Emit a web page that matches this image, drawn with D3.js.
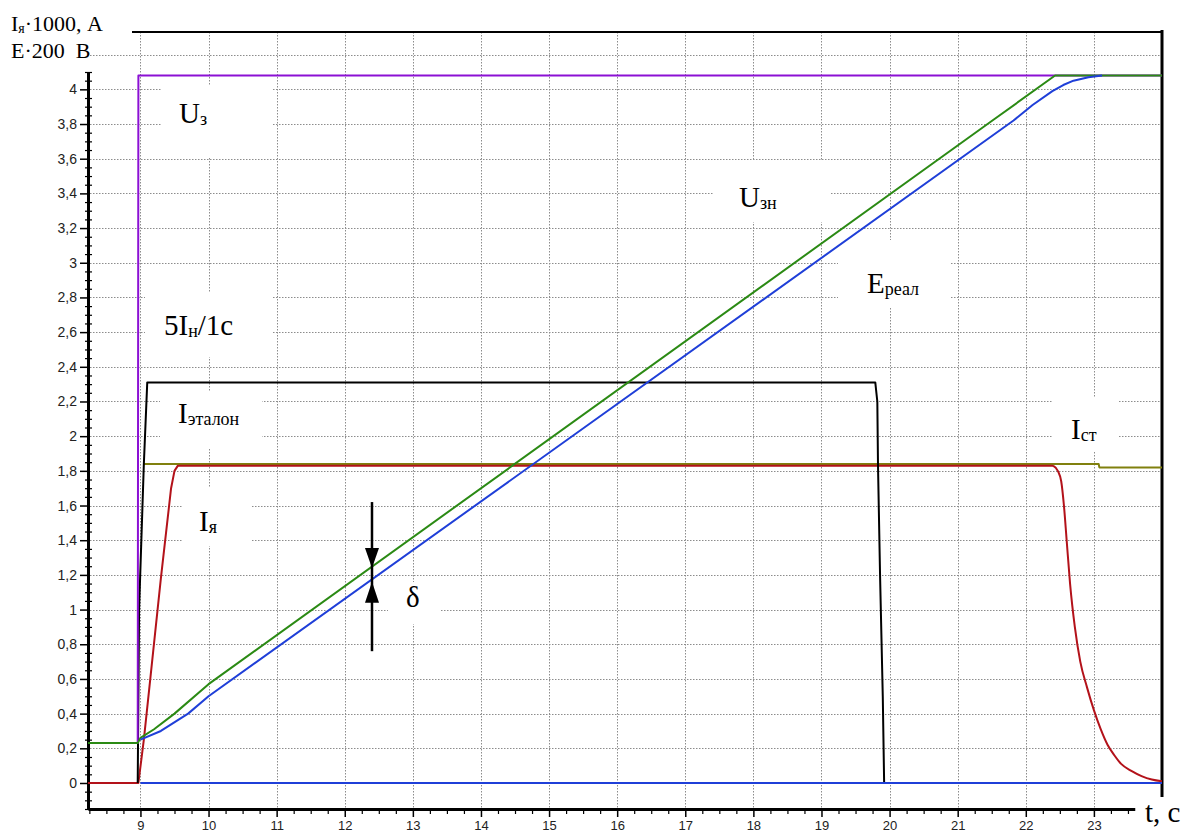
<!DOCTYPE html>
<html>
<head>
<meta charset="utf-8">
<script src="https://cdn.jsdelivr.net/npm/d3@7"></script>
<style>
    body { margin: 0; background: #fff; }
    svg { display: block; }
    .serif { font-family: "Liberation Serif", "DejaVu Serif", serif; fill: #000; }
    .tick text { font-family: "Liberation Sans", Arial, sans-serif; font-size: 14px; fill: #222; }
</style>
</head>
<body>
<svg id="chart" width="1181" height="833"></svg>
<script>
// time axis, s
var xMajor = [9, 10, 11, 12, 13, 14, 15, 16, 17, 18, 19, 20, 21, 22, 23];
var yMajor = [0, 0.2, 0.4, 0.6, 0.8, 1, 1.2, 1.4, 1.6, 1.8, 2, 2.2, 2.4, 2.6, 2.8, 3, 3.2, 3.4, 3.6, 3.8, 4];

// Uз - reference voltage (purple)
var uRef = [[8.23, 0.23], [8.96, 0.23], [8.97, 4.08], [24.0, 4.08]];
// Uзн - ramp generator output (green)
var uRamp = [[8.23, 0.23], [8.96, 0.23], [9.0, 0.26], [9.2, 0.31], [9.5, 0.40], [10.0, 0.57],
    [21.51, 3.82], [22.43, 4.08], [24.0, 4.08]];
// Eреал - real emf (blue)
var eReal = [[9.0, 0.25], [9.3, 0.30], [9.7, 0.40], [10.0, 0.50], [21.82, 3.82], [22.1, 3.91],
    [22.39, 3.99], [22.55, 4.025], [22.7, 4.05], [22.92, 4.07], [23.12, 4.08]];
var eZero = [[9.0, 0], [24.0, 0]];
// Iэталон - reference current (black)
var iEtalon = [[8.96, 0], [8.98, 1.0], [9.05, 1.84], [9.1, 2.31], [19.79, 2.31], [19.82, 2.2],
    [19.83, 1.83], [19.86, 1.2], [19.9, 0.5], [19.92, 0]];
// Iя - armature current (red)
var iArmRise = [[8.23, 0], [8.97, 0], [9.05, 0.25], [9.15, 0.62], [9.3, 1.18], [9.45, 1.7],
    [9.5, 1.8], [9.55, 1.83], [22.4, 1.83]];
var iArmFall = [[22.4, 1.83], [22.47, 1.8], [22.52, 1.74], [22.56, 1.6], [22.6, 1.4], [22.65, 1.15],
    [22.72, 0.9], [22.8, 0.7], [22.9, 0.55], [23.0, 0.42], [23.1, 0.31], [23.2, 0.22], [23.3, 0.16],
    [23.4, 0.11], [23.55, 0.07], [23.7, 0.04], [23.85, 0.02], [24.0, 0.01]];
// Iст - static load current (olive)
var iStat = [[9.05, 1.84], [23.07, 1.84], [23.08, 1.82], [24.0, 1.82]];
// δ marker: time and the two arrow tips
var deltaT = 12.4;
var deltaSpan = [0.76, 1.62];
var deltaTips = [1.24, 1.16];

document.addEventListener('DOMContentLoaded', main);

function main() {
    var svg = d3.select('#chart');

    var x = d3.scaleLinear().domain([8.23, 24.0]).range([88, 1162]);
    var y = d3.scaleLinear().domain([-0.15, 4.1]).range([809, 72]);
    var topY = 32;

    // grid
    var grid = svg.append('g')
        .attr('stroke', '#8c8c8c')
        .attr('stroke-width', 1)
        .attr('stroke-dasharray', '1.5,1.5');
    grid.selectAll('.hg')
        .data(yMajor.filter(function (d) { return d > 0; }).concat([4.2]))
        .enter().append('line')
        .attr('x1', 90).attr('x2', 1161)
        .attr('y1', function (d) { return Math.round(y(d)) + 0.5; })
        .attr('y2', function (d) { return Math.round(y(d)) + 0.5; });
    grid.selectAll('.vg')
        .data(xMajor)
        .enter().append('line')
        .attr('y1', topY).attr('y2', 808)
        .attr('x1', function (d) { return Math.round(x(d)) + 0.5; })
        .attr('x2', function (d) { return Math.round(x(d)) + 0.5; });

    // white boxes under the annotations
    var boxes = [[162, 85, 110, 72], [145, 293, 127, 64], [160, 392, 102, 56], [182, 488, 70, 58],
        [388, 582, 52, 42], [713, 160, 117, 62], [838, 240, 112, 68], [1053, 398, 65, 54]];
    svg.append('g').selectAll('rect')
        .data(boxes)
        .enter().append('rect')
        .attr('x', function (d) { return d[0]; })
        .attr('y', function (d) { return d[1]; })
        .attr('width', function (d) { return d[2]; })
        .attr('height', function (d) { return d[3]; })
        .attr('fill', '#fff');

    // axes
    var yAxis = svg.append('g')
        .attr('transform', 'translate(88,0)')
        .call(d3.axisLeft(y).tickValues(yMajor).tickSize(8).tickSizeOuter(0).tickPadding(3)
            .tickFormat(function (d) { return String(+d.toFixed(1)).replace('.', ','); }));
    yAxis.select('.domain').attr('stroke-width', 3);
    yAxis.selectAll('.tick line').attr('stroke-width', 1.5);

    var yMinor = d3.range(-0.15, 4.101, 0.05).filter(function (d) {
        return Math.abs(d * 5 - Math.round(d * 5)) > 0.01;
    });
    var yMinorAxis = svg.append('g')
        .attr('transform', 'translate(92,0)')
        .call(d3.axisLeft(y).tickValues(yMinor).tickSize(7).tickSizeOuter(0).tickFormat(''));
    yMinorAxis.select('.domain').remove();
    yMinorAxis.selectAll('.tick line').attr('stroke-width', 1.2);

    var xAxisScale = x.copy().domain([8.23, 23.6]).range([88, x(23.6)]);
    var xAxis = svg.append('g')
        .attr('transform', 'translate(0,809)')
        .call(d3.axisBottom(xAxisScale).tickValues(xMajor).tickSize(8).tickSizeOuter(0).tickPadding(4));
    xAxis.select('.domain').attr('stroke-width', 3);
    xAxis.selectAll('.tick line').attr('stroke-width', 1.5);
    xAxis.selectAll('.tick text').style('font-size', '13px');

    var xMinor = d3.range(8.25, 23.51, 0.25).filter(function (d) { return d % 1 !== 0; });
    var xMinorAxis = svg.append('g')
        .attr('transform', 'translate(0,809)')
        .call(d3.axisBottom(xAxisScale).tickValues(xMinor).tickSize(5).tickSizeOuter(0).tickFormat(''));
    xMinorAxis.select('.domain').remove();
    xMinorAxis.selectAll('.tick line').attr('stroke-width', 1.2);

    // frame: top and right
    svg.append('line')
        .attr('x1', 132).attr('x2', 1163).attr('y1', topY).attr('y2', topY)
        .attr('stroke', '#000').attr('stroke-width', 2);
    svg.append('line')
        .attr('x1', 1162).attr('x2', 1162).attr('y1', topY - 2).attr('y2', 797)
        .attr('stroke', '#000').attr('stroke-width', 3);

    // series
    var line = d3.line()
        .x(function (d) { return x(d[0]); })
        .y(function (d) { return y(d[1]); });
    var smooth = d3.line()
        .x(function (d) { return x(d[0]); })
        .y(function (d) { return y(d[1]); })
        .curve(d3.curveMonotoneX);

    var series = [
        { data: iStat, color: '#80800e', gen: line },
        { data: iArmRise, color: '#b3121a', gen: line },
        { data: iArmFall, color: '#b3121a', gen: smooth },
        { data: iEtalon, color: '#000000', gen: line },
        { data: uRef, color: '#8b10d4', gen: line },
        { data: eZero, color: '#1f3fd8', gen: line },
        { data: uRamp, color: '#2b8a14', gen: line },
        { data: eReal, color: '#1f3fd8', gen: line }
    ];
    svg.append('g').selectAll('path')
        .data(series)
        .enter().append('path')
        .attr('d', function (d) { return d.gen(d.data); })
        .attr('fill', 'none')
        .attr('stroke', function (d) { return d.color; })
        .attr('stroke-width', 2)
        .attr('stroke-linejoin', 'round');

    // δ marker
    var dx = x(deltaT);
    svg.append('line')
        .attr('x1', dx).attr('x2', dx)
        .attr('y1', y(deltaSpan[1])).attr('y2', y(deltaSpan[0]))
        .attr('stroke', '#000').attr('stroke-width', 2.5);
    var tipDown = y(deltaTips[0]), tipUp = y(deltaTips[1]);
    svg.append('path')
        .attr('d', 'M' + (dx - 7) + ',' + (tipDown - 20) + 'L' + (dx + 7) + ',' + (tipDown - 20) + 'L' + dx + ',' + tipDown + 'Z')
        .attr('fill', '#000');
    svg.append('path')
        .attr('d', 'M' + (dx - 7) + ',' + (tipUp + 21) + 'L' + (dx + 7) + ',' + (tipUp + 21) + 'L' + dx + ',' + tipUp + 'Z')
        .attr('fill', '#000');

    // annotations
    var labels = [
        { x: 179, y: 123, main: 'U', sub: 'з' },
        { x: 164, y: 335, main: '5I', sub: 'н', tail: '/1c' },
        { x: 178, y: 423, main: 'I', sub: 'эталон' },
        { x: 199, y: 531, main: 'I', sub: 'я' },
        { x: 406, y: 607, main: 'δ', sub: '' },
        { x: 739, y: 207, main: 'U', sub: 'зн' },
        { x: 867, y: 293, main: 'E', sub: 'реал' },
        { x: 1071, y: 439, main: 'I', sub: 'ст' }
    ];
    labels.forEach(function (l) {
        var t = svg.append('text')
            .attr('class', 'serif')
            .attr('x', l.x).attr('y', l.y)
            .style('font-size', '29px');
        t.append('tspan').text(l.main);
        if (l.sub) {
            t.append('tspan').style('font-size', '18px').attr('dy', 2).text(l.sub);
        }
        if (l.tail) {
            t.append('tspan').attr('dy', -2).text(l.tail);
        }
    });

    // axis titles
    var t1 = svg.append('text').attr('class', 'serif').attr('x', 11).attr('y', 31).style('font-size', '22px');
    t1.append('tspan').text('I');
    t1.append('tspan').style('font-size', '14px').attr('dy', 2).text('я');
    t1.append('tspan').attr('dy', -2).text('·1000, A');
    svg.append('text').attr('class', 'serif').attr('x', 11).attr('y', 58)
        .style('font-size', '22px').style('white-space', 'pre').text('E·200  B');
    svg.append('text').attr('class', 'serif').attr('x', 1145).attr('y', 822)
        .style('font-size', '29px').text('t, c');
}
</script>
</body>
</html>
